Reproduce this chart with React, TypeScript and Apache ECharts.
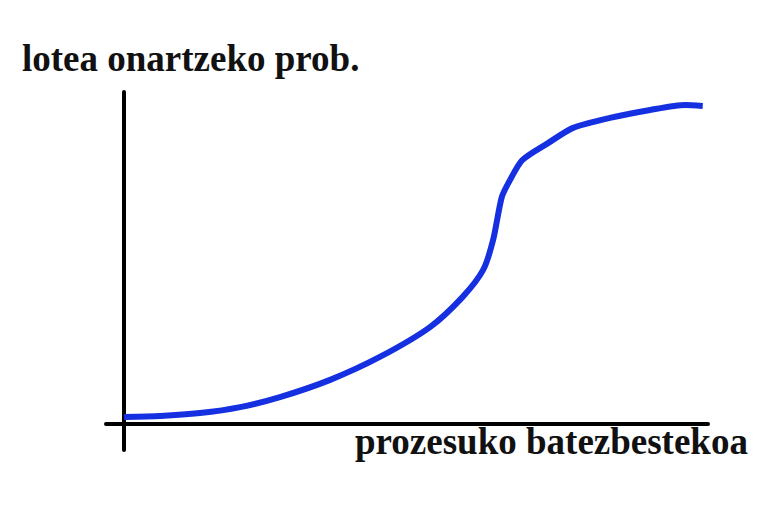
import React, { useEffect, useRef } from "react";
import * as echarts from "echarts";

const xValues = [0, 0.062, 0.13, 0.199, 0.267, 0.353, 0.438, 0.524, 0.58, 0.615, 0.632, 0.647, 0.661, 0.682, 0.726, 0.769, 0.832, 0.901, 0.961, 0.991];
const yValues = [0.021, 0.024, 0.033, 0.051, 0.081, 0.133, 0.202, 0.292, 0.383, 0.464, 0.554, 0.684, 0.735, 0.795, 0.846, 0.892, 0.922, 0.946, 0.961, 0.958];
const yLabel = "lotea onartzeko prob.";
const xLabel = "prozesuko batezbestekoa";

export default function App() {
  const ref = useRef<HTMLDivElement>(null);
  useEffect(() => {
    if (!ref.current) return;
    const chart = echarts.init(ref.current, null, { renderer: "svg" });
    const font = '"Liberation Serif", "Times New Roman", serif';
    chart.setOption({
      animation: false,
      backgroundColor: "#ffffff",
      grid: { left: 106, right: 60, top: 92, bottom: 62 },
      xAxis: {
        type: "value",
        min: -0.0308,
        max: 1,
        axisLine: { show: true, onZero: true, lineStyle: { color: "#000", width: 4 } },
        axisTick: { show: false },
        axisLabel: { show: false },
        splitLine: { show: false },
      },
      yAxis: {
        type: "value",
        min: -0.0783,
        max: 1,
        axisLine: { show: true, onZero: true, lineStyle: { color: "#000", width: 4 } },
        axisTick: { show: false },
        axisLabel: { show: false },
        splitLine: { show: false },
      },
      series: [
        {
          type: "line",
          data: xValues.map((x, i) => [x, yValues[i]]),
          smooth: 0.25,
          showSymbol: false,
          lineStyle: { color: "#1530e0", width: 6 },
        },
      ],
      graphic: [
        {
          type: "text",
          left: 22,
          top: 40,
          style: { text: yLabel, font: `bold 37px ${font}`, fill: "#111" },
        },
        {
          type: "text",
          left: 355,
          top: 423,
          style: { text: xLabel, font: `bold 37px ${font}`, fill: "#111" },
        },
      ],
    });
    return () => chart.dispose();
  }, []);
  return <div ref={ref} style={{ width: 768, height: 512, position: "absolute", left: 0, top: 0 }} />;
}
